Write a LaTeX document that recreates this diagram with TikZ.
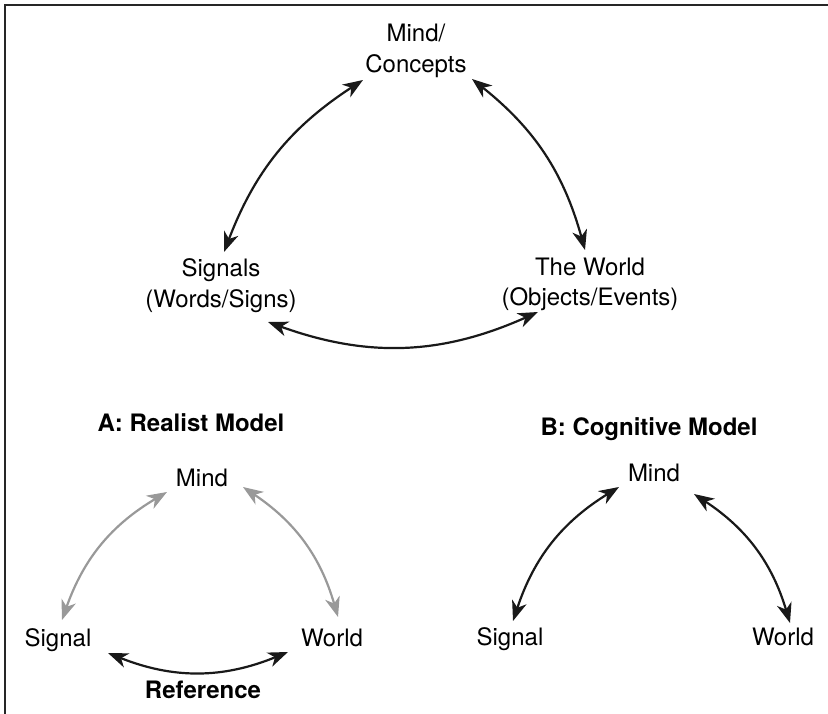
\documentclass[tikz,border=0pt]{standalone}
\usepackage{fontspec}
\setmainfont{TeX Gyre Heros}
\usepackage{tikz}
\usetikzlibrary{arrows.meta}
\definecolor{armgray}{gray}{0.6}

\begin{document}
\begin{tikzpicture}[x=1pt,y=-1pt,line width=2.2pt,>={Stealth[length=20pt,width=15pt,inset=6pt]}]
\fontsize{24}{31}\selectfont
\tikzstyle{lbl}=[inner sep=0pt, anchor=base, align=center]
\tikzstyle{ttl}=[lbl, font=\bfseries]
\tikzstyle{link}=[<->, draw=black!90]
\tikzstyle{greylink}=[<->, draw=armgray]
\useasboundingbox (0,0) rectangle (828,714);
\draw[black!85, line width=2.5pt] (828,5) -- (5,5) -- (5,714);
% semiotic triangle (base = last line)
\node[lbl] (mind) at (416,73) {Mind/\\Concepts};
\node[lbl] (sig) at (221,308) {Signals\\(Words/Signs)};
\node[lbl] (wld) at (590,306) {The World\\(Objects/Events)};
\draw[link] ([xshift=-53pt,yshift=-7pt]mind.base) to[bend right=18] ([xshift=3pt,yshift=56pt]sig.base);
\draw[link] ([xshift=56pt,yshift=-6pt]mind.base) to[bend left=18] ([xshift=-5pt,yshift=56pt]wld.base);
\draw[link] ([xshift=47pt,yshift=-14pt]sig.base) to[bend right=22] ([xshift=-52pt,yshift=-6pt]wld.base);
% A: realist
\node[ttl] (titA) at (191,431) {A: Realist Model};
\node[lbl] (mindA) at (202,486) {Mind};
\node[lbl] (sigA) at (58,646) {Signal};
\node[lbl] (wldA) at (332,646) {World};
\node[ttl] (refA) at (203,698) {Reference};
\draw[greylink] ([xshift=-35pt,yshift=-6pt]mindA.base) to[bend right=20] ([xshift=4pt,yshift=26pt]sigA.base);
\draw[greylink] ([xshift=41pt,yshift=-1pt]mindA.base) to[bend left=20] ([xshift=6pt,yshift=29pt]wldA.base);
\draw[link] ([xshift=50pt,yshift=-7pt]sigA.base) to[bend right=22] ([xshift=-44pt,yshift=-6pt]wldA.base);
% B: cognitive
\node[ttl] (titB) at (649,435) {B: Cognitive Model};
\node[lbl] (mindB) at (654,481) {Mind};
\node[lbl] (sigB) at (510,645) {Signal};
\node[lbl] (wldB) at (783,645) {World};
\draw[link] ([xshift=-35pt,yshift=-6pt]mindB.base) to[bend right=20] ([xshift=3pt,yshift=24pt]sigB.base);
\draw[link] ([xshift=40pt,yshift=-13pt]mindB.base) to[bend left=20] ([xshift=7pt,yshift=22pt]wldB.base);
\end{tikzpicture}
\end{document}
